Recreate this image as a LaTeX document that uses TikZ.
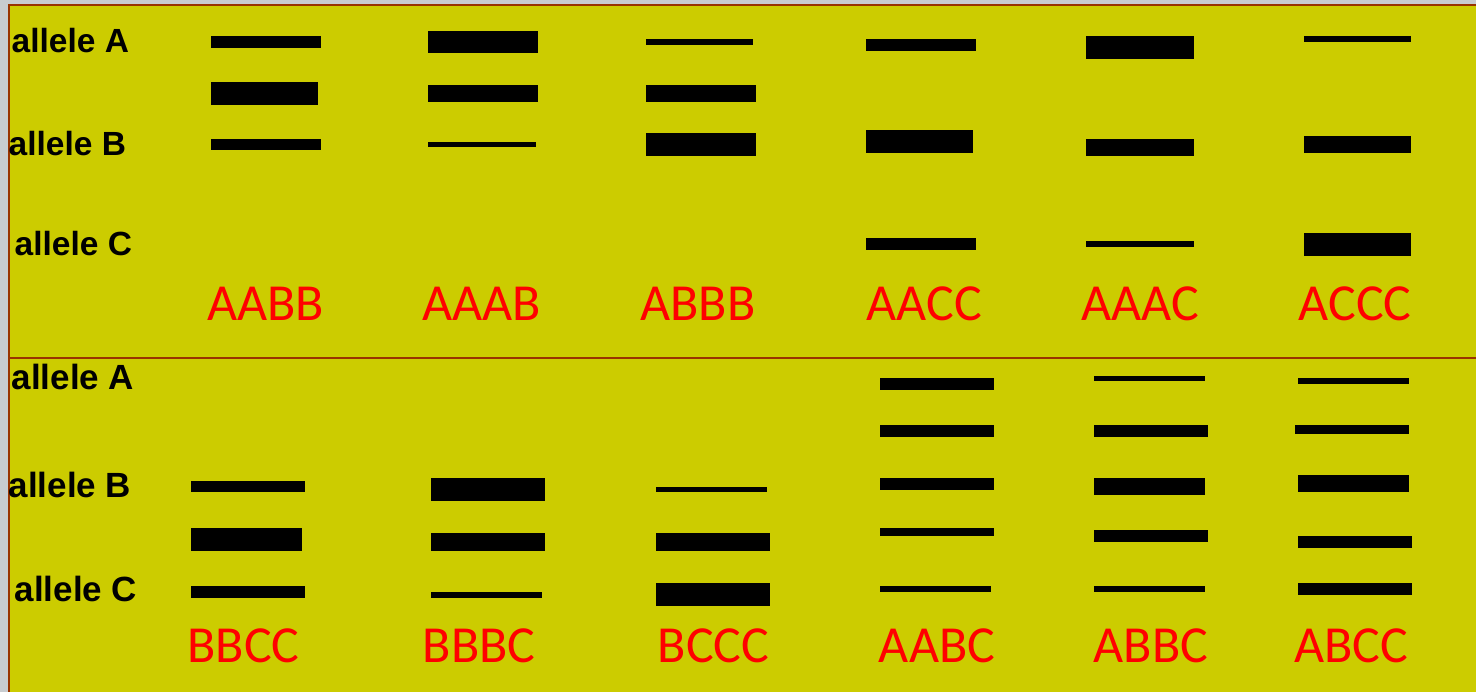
\documentclass[tikz,border=0pt]{standalone}
\usepackage{fontspec}
\newfontfamily\allelefont{Liberation Sans}
\newfontfamily\gtfont{Carlito}
\definecolor{gelyellow}{RGB}{204,204,0}
\definecolor{framegray}{RGB}{200,204,208}
\definecolor{framebrown}{RGB}{153,51,0}
\definecolor{gtred}{RGB}{255,0,0}
\newcommand\gelband[4]{\fill[black] (#1,#2) rectangle (#3,#4);}
\tikzset{
  allele/.style={anchor=base west, inner sep=0pt, font=\allelefont\bfseries\fontsize{33.5}{36}\selectfont, text=black},
  alleleb/.style={allele, font=\allelefont\bfseries\fontsize{35}{38}\selectfont},
  gtlabel/.style={anchor=base, inner sep=0pt, font=\gtfont\fontsize{52}{56}\selectfont, text=gtred}
}
\begin{document}
\begin{tikzpicture}[x=1pt,y=-1pt]
\useasboundingbox (0,0) rectangle (1476,692);
% frame
\fill[framegray] (0,0) rectangle (1476,692);
\fill[framebrown] (8,4) rectangle (1476,692);
\fill[gelyellow] (10,6) rectangle (1476,692);
\fill[framebrown] (10,357) rectangle (1476,359);

% top panel allele labels
\node[allele] (tA) at (11.5,52.7) {allele A};
\node[allele] (tB) at (8.5,155.7) {allele B};
\node[allele] (tC) at (14.5,256) {allele C};
% bottom panel allele labels
\node[alleleb] (bA) at (11.5,390) {allele A};
\node[alleleb] (bB) at (8.5,497) {allele B};
\node[alleleb] (bC) at (14.5,601) {allele C};

% ---- top panel bands ----
% AABB
\gelband{211}{36}{321}{48}
\gelband{211}{82}{318}{105}
\gelband{211}{139}{321}{150}
% AAAB
\gelband{428}{31}{538}{53}
\gelband{428}{85}{538}{102}
\gelband{428}{142}{536}{147}
% ABBB
\gelband{646}{39}{753}{45}
\gelband{646}{85}{756}{102}
\gelband{646}{133}{756}{156}
% AACC
\gelband{866}{39}{976}{51}
\gelband{866}{130}{973}{153}
\gelband{866}{238}{976}{250}
% AAAC
\gelband{1086}{36}{1194}{59}
\gelband{1086}{139}{1194}{156}
\gelband{1086}{241}{1194}{247}
% ACCC
\gelband{1304}{36}{1411}{42}
\gelband{1304}{136}{1411}{153}
\gelband{1304}{233}{1411}{256}

% ---- bottom panel bands ----
% BBCC
\gelband{191}{481}{305}{492}
\gelband{191}{528}{302}{551}
\gelband{191}{586}{305}{598}
% BBBC
\gelband{431}{478}{545}{501}
\gelband{431}{533}{545}{551}
\gelband{431}{592}{542}{598}
% BCCC
\gelband{656}{487}{767}{492}
\gelband{656}{533}{770}{551}
\gelband{656}{583}{770}{606}
% AABC
\gelband{880}{378}{994}{390}
\gelband{880}{425}{994}{437}
\gelband{880}{478}{994}{490}
\gelband{880}{528}{994}{536}
\gelband{880}{586}{991}{592}
% ABBC
\gelband{1094}{376}{1205}{381}
\gelband{1094}{425}{1208}{437}
\gelband{1094}{478}{1205}{495}
\gelband{1094}{530}{1208}{542}
\gelband{1094}{586}{1205}{592}
% ABCC
\gelband{1298}{378}{1409}{384}
\gelband{1295}{425}{1409}{434}
\gelband{1298}{475}{1409}{492}
\gelband{1298}{536}{1412}{548}
\gelband{1298}{583}{1412}{595}

% genotype labels
\node[gtlabel] (g1) at (265.5,321) {AABB};
\node[gtlabel] (g2) at (481.8,321) {AAAB};
\node[gtlabel] (g3) at (698,321) {ABBB};
\node[gtlabel] (g4) at (924.5,321) {AACC};
\node[gtlabel] (g5) at (1140.3,321) {AAAC};
\node[gtlabel] (g6) at (1355,321) {ACCC};
\node[gtlabel] (g7) at (243.5,662) {BBCC};
\node[gtlabel] (g8) at (479,662) {BBBC};
\node[gtlabel] (g9) at (713.5,662) {BCCC};
\node[gtlabel] (g10) at (937,662) {AABC};
\node[gtlabel] (g11) at (1151,662) {ABBC};
\node[gtlabel] (g12) at (1351.5,662) {ABCC};
\end{tikzpicture}
\end{document}
